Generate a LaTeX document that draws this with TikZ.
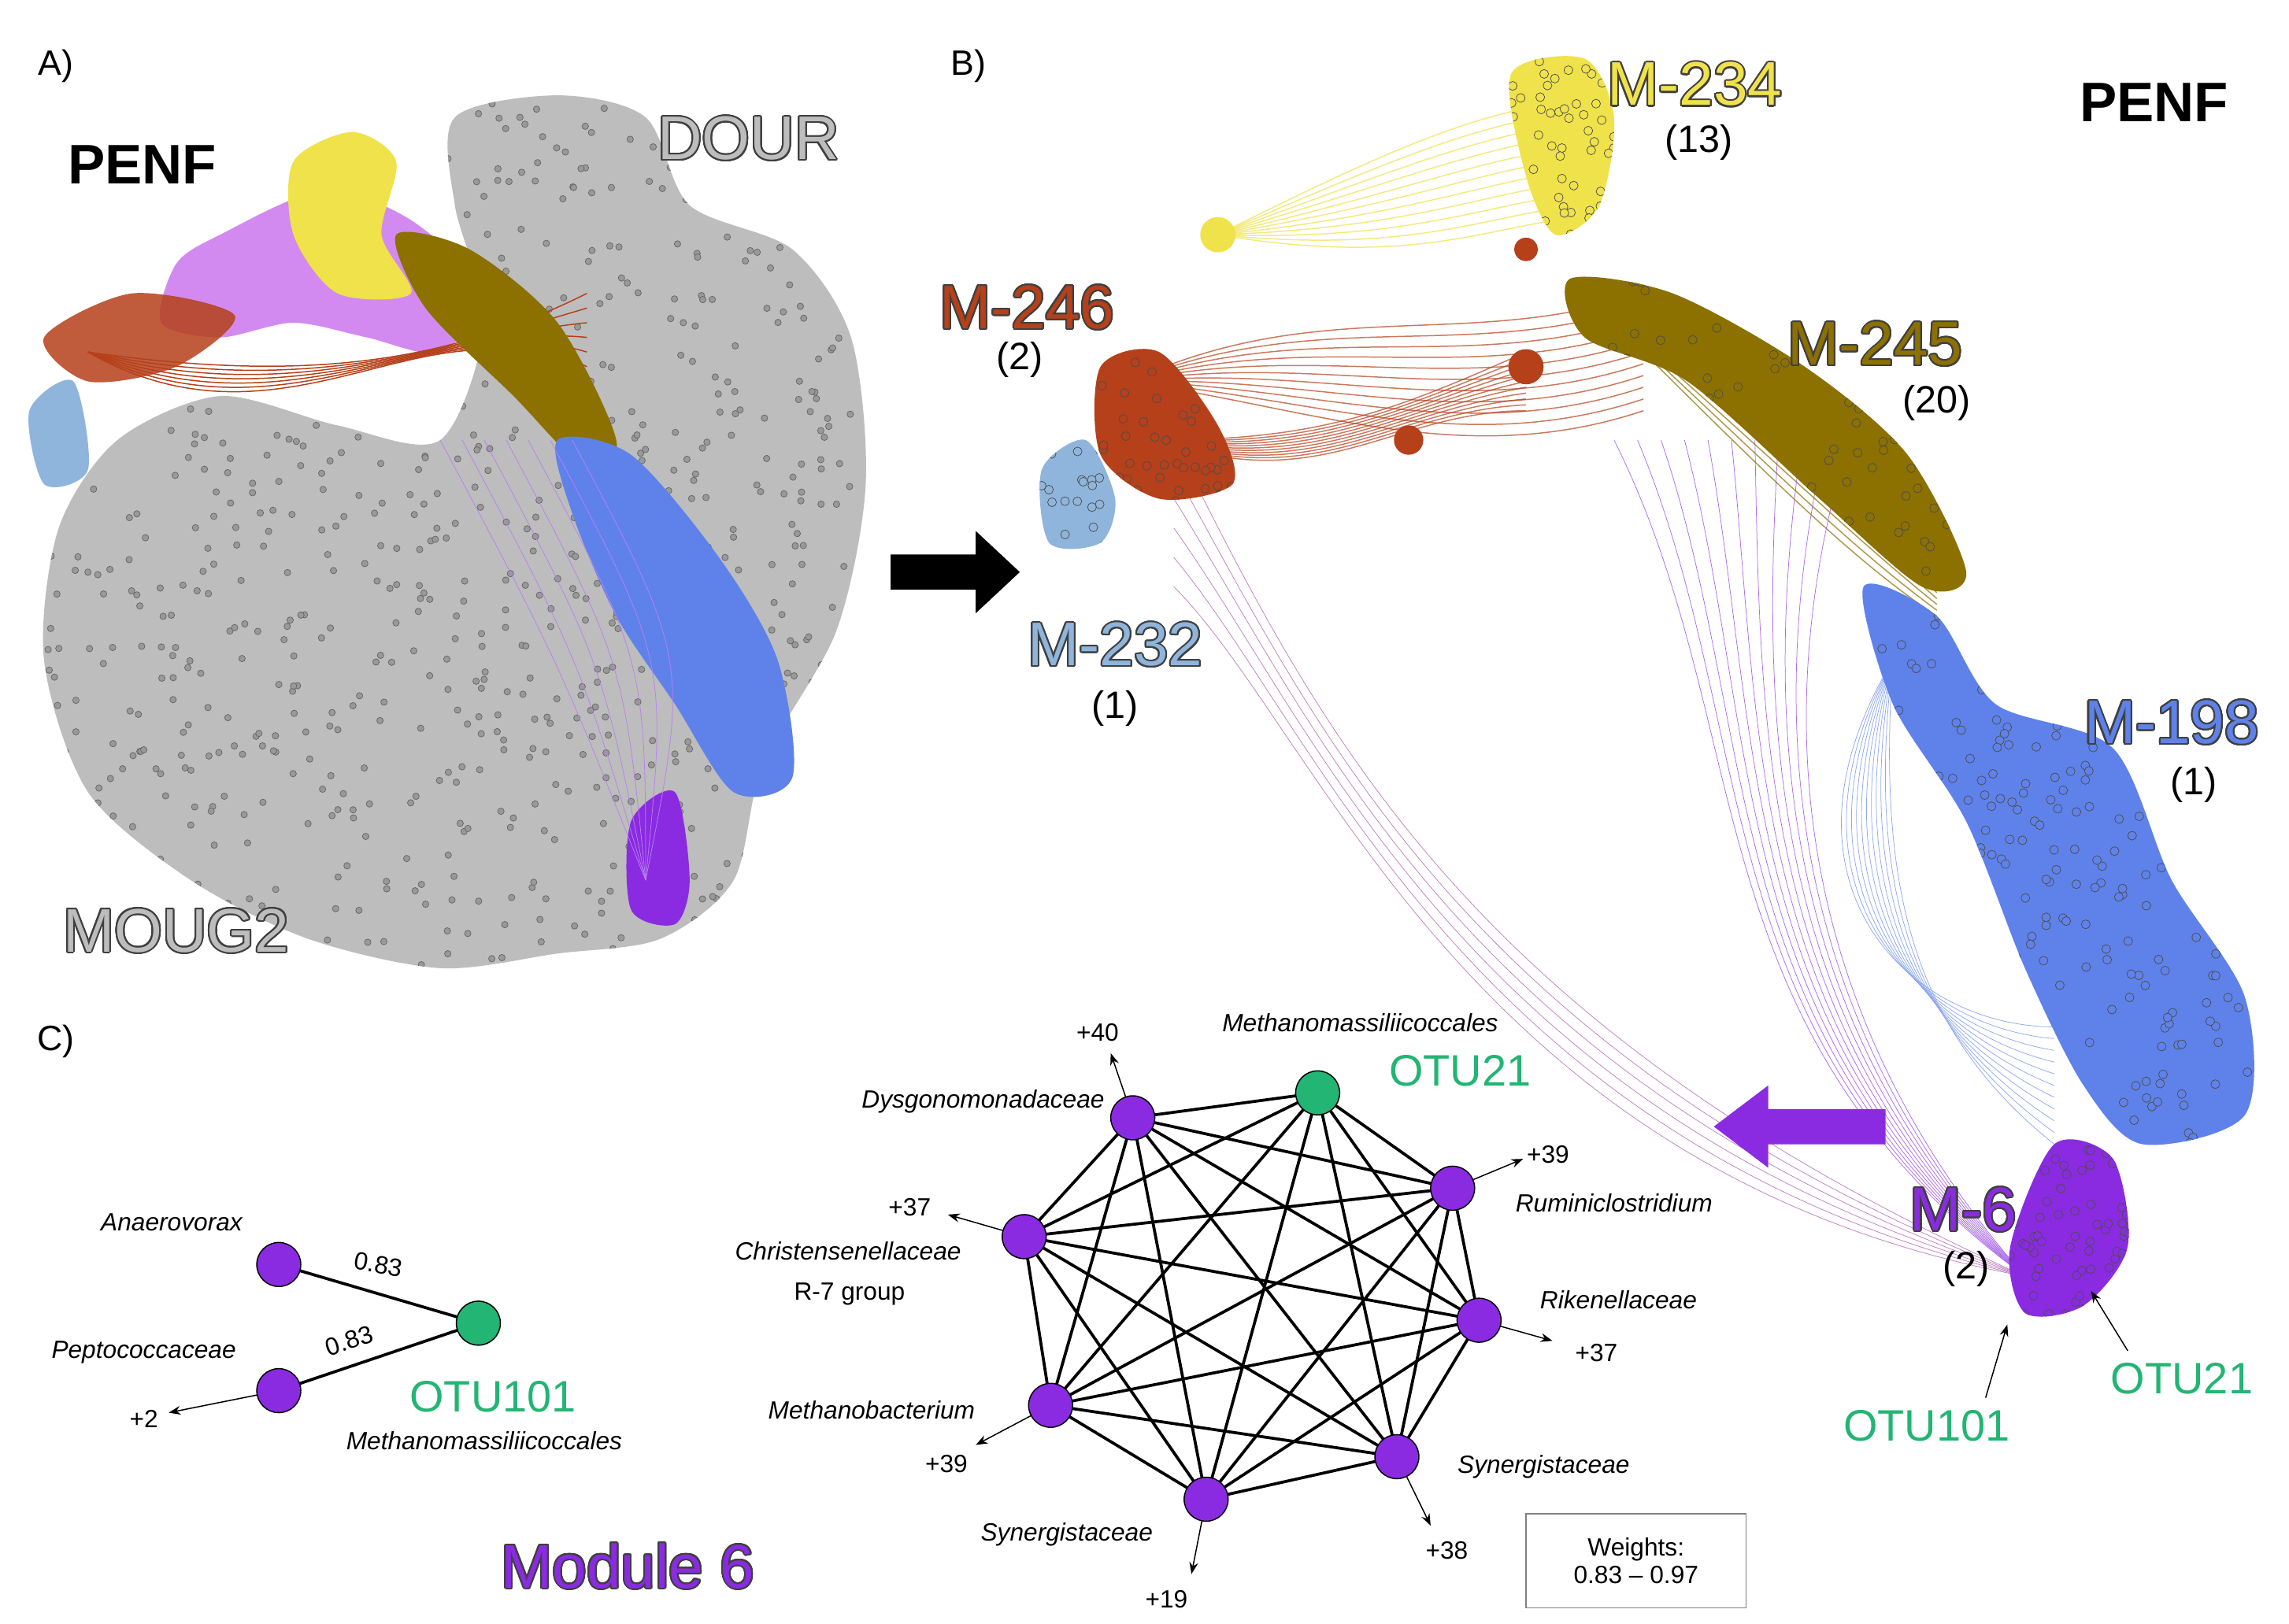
\documentclass[tikz,border=0pt]{standalone}
\usepackage{fontspec}
\setmainfont{Liberation Sans}
\usepackage{contour}
\contourlength{1.1pt}
\contournumber{24}
\usetikzlibrary{arrows.meta}
\definecolor{gblob}{HTML}{BDBDBD}
\definecolor{gdot}{HTML}{6E6E6E}
\definecolor{lviolet}{HTML}{D38AF0}
\definecolor{rbrown}{HTML}{B5401A}
\definecolor{yel}{HTML}{F0E24A}
\definecolor{olive}{HTML}{8C7000}
\definecolor{blu}{HTML}{5F82EA}
\definecolor{dpur}{HTML}{8A2BE2}
\definecolor{lblue}{HTML}{8FB5DC}
\definecolor{grn}{HTML}{22B573}
\newcommand{\olab}[2]{\contour{black!75}{\textcolor{#1}{#2}}}
\begin{document}
\begin{tikzpicture}[x=1pt,y=-1pt,
  pn/.style={circle,draw=black,thick,fill=dpur,minimum size=30pt,inner sep=0},
  gn/.style={circle,draw=black,thick,fill=grn,minimum size=30pt,inner sep=0},
  tx/.style={font=\fontsize{17}{19}\selectfont\itshape},
  nm/.style={font=\fontsize{17}{19}\selectfont},
  big/.style={font=\fontsize{42}{44}\selectfont},
  lab/.style={font=\fontsize{26}{28}\selectfont},
  ed/.style={line width=2pt},
  ar/.style={-{Stealth[length=8pt]},thick}]
\useasboundingbox (0,0) rectangle (1560,1107);
\fill[white] (0,0) rectangle (1560,1107);
% ---------- Panel A ----------
\def\grayblob{plot[smooth cycle] coordinates {(310,80)(380,65)(440,80)(470,140)(540,170)(580,230)(590,330)(570,430)(520,520)(500,600)(450,640)(380,650)(300,660)(210,640)(130,600)(60,540)(30,450)(40,360)(80,300)(150,270)(230,290)(300,300)(330,220)(310,140)}}
\fill[gblob] \grayblob;
\begin{scope}
\clip \grayblob;
\pgfmathsetseed{7}
\foreach \i in {1,...,900}{\draw[black!60,fill=gdot!70] ({rand*280+300},{rand*300+370}) circle (2.2pt);}
\end{scope}
\fill[lviolet] plot[smooth cycle] coordinates {(150,160)(220,130)(280,150)(330,200)(300,240)(250,230)(200,220)(150,230)(110,220)(120,180)};
\fill[rbrown,opacity=.85] plot[smooth cycle] coordinates {(30,230)(90,200)(160,215)(120,250)(60,260)};
\foreach \a in {0,10,...,60}{\draw[rbrown,thick] (60,240) .. controls (200,{260+\a}) and (300,{250-\a}) .. (400,{200+\a});}
\fill[yel] plot[smooth cycle] coordinates {(200,110)(240,90)(270,110)(260,160)(280,200)(230,200)(200,160)};
\fill[olive] plot[smooth cycle] coordinates {(270,160)(320,170)(380,220)(420,300)(400,320)(350,270)(290,210)};
\fill[blu] plot[smooth cycle] coordinates {(380,300)(430,310)(490,380)(530,450)(540,530)(500,540)(460,480)(420,420)(390,350)};
\fill[dpur] plot[smooth cycle] coordinates {(430,560)(460,540)(470,600)(460,630)(430,620)};
\foreach \a in {0,15,...,90}{\draw[dpur!60,thin] (440,600) .. controls ({380+\a},450) .. ({300+\a},300);}
\fill[lblue] plot[smooth cycle] coordinates {(20,280)(50,260)(60,320)(30,330)};
\node[font=\fontsize{24}{26}\selectfont] at (38,45) {A)};
\node[font=\fontsize{38}{40}\selectfont\bfseries] at (97,112) {PENF};
\node[big] at (510,95) {\olab{gblob}{DOUR}};
\node[big] at (120,635) {\olab{gblob}{MOUG2}};
% arrow
\fill[black] (607,378) -- (665,378) -- (665,362) -- (695,390) -- (665,418) -- (665,402) -- (607,402) -- cycle;
% ---------- Panel B ----------
\node[font=\fontsize{24}{26}\selectfont] at (660,45) {B)};
\node[font=\fontsize{38}{40}\selectfont\bfseries] at (1468,70) {PENF};
\foreach \a in {0,8,...,80}{
 \draw[yel,thick,opacity=.7] (830,160) .. controls (950,{100+\a}) and (1000,{80+\a}) .. (1060,{70+\a});
 \draw[rbrown,thick,opacity=.7] (770,260) .. controls (900,{200+\a}) and (1000,{240+\a}) .. (1120,{200+\a});
 \draw[rbrown,thick,opacity=.7] (790,300) .. controls (900,{300+\a/2}) and (950,{280}) .. (1040,{240+\a/2});
 \draw[olive,thick,opacity=.7] (1080,200) .. controls (1200,{240+\a}) and (1260,{300+\a}) .. (1320,{380+\a/2});
 \draw[blu!70,thin] (1290,450) .. controls ({1200+\a},600) and (1300,700) .. (1400,{700+\a});
 \draw[dpur!70,thin] (1380,870) .. controls ({1150+\a},700) and (1200,500) .. ({1100+\a*2},300);
}
\foreach \a in {0,20,...,100}{\draw[violet!50,thin] (1380,870) .. controls (1000,{700+\a}) and (900,{500}) .. (800,{300+\a});}
\def\yblob{plot[smooth cycle] coordinates {(1030,50)(1080,40)(1100,80)(1090,140)(1060,160)(1040,120)}}
\def\oblob{plot[smooth cycle] coordinates {(1070,190)(1140,200)(1230,250)(1300,310)(1340,390)(1310,400)(1240,340)(1150,260)(1080,230)}}
\def\rblob{plot[smooth cycle] coordinates {(750,250)(790,240)(830,290)(840,330)(790,340)(750,310)}}
\def\lbblob{plot[smooth cycle] coordinates {(710,320)(740,300)(760,340)(750,370)(715,370)}}
\def\bblob{plot[smooth cycle] coordinates {(1270,400)(1320,420)(1360,480)(1440,510)(1480,600)(1530,680)(1530,760)(1460,780)(1420,740)(1380,660)(1340,560)(1290,480)}}
\def\pblob{plot[smooth cycle] coordinates {(1400,780)(1440,790)(1450,850)(1420,890)(1380,895)(1370,850)}}
\pgfmathsetseed{3}
\foreach \b/\c/\cx/\cy/\rx/\ry/\n in {\yblob/yel/1065/100/40/62/60,\oblob/olive/1205/295/140/105/120,\rblob/rbrown/795/290/47/52/40,\lbblob/lblue/735/335/27/37/20,\bblob/blu/1400/590/132/192/300,\pblob/dpur/1410/838/42/60/70}{
 \fill[\c] \b;
 \begin{scope}\clip \b;
 \foreach \i in {1,...,\n}{\draw[black!70,fill=\c] ({rand*\rx+\cx},{rand*\ry+\cy}) circle (3pt);}
 \end{scope}}
\fill[yel] (830,160) circle (12);
\fill[rbrown] (1040,250) circle (12); \fill[rbrown] (960,300) circle (10); \fill[rbrown] (1040,170) circle (8);
\node[big] at (1155,58) {\olab{yel}{M-234}};
\node[lab] at (1158,97) {(13)};
\node[big] at (700,210) {\olab{rbrown}{M-246}};
\node[lab] at (695,245) {(2)};
\node[big] at (1278,235) {\olab{olive}{M-245}};
\node[lab] at (1320,275) {(20)};
\node[big] at (760,440) {\olab{lblue}{M-232}};
\node[lab] at (760,483) {(1)};
\node[big] at (1480,493) {\olab{blu}{M-198}};
\node[lab] at (1495,535) {(1)};
\node[big] at (1338,825) {\olab{dpur}{M-6}};
\node[lab] at (1340,865) {(2)};
\node[font=\fontsize{30}{32}\selectfont,text=grn] (o101) at (1313,972) {OTU101};
\node[font=\fontsize{30}{32}\selectfont,text=grn] (o21) at (1487,940) {OTU21};
\coordinate (t101) at (1368,903); \coordinate (t21) at (1425,880);
\draw[ar] (o101.north east) ++(-20,-5) -- (t101);
\draw[ar] (o21.north west) ++(15,-5) -- (t21);
% purple arrow
\fill[dpur] (1285,756) -- (1205,756) -- (1205,740) -- (1168,768) -- (1205,796) -- (1205,780) -- (1285,780) -- cycle;
% ---------- Panel C ----------
\node[font=\fontsize{24}{26}\selectfont] at (38,710) {C)};
\coordinate (c1) at (898,745); \coordinate (c2) at (990,810);
\coordinate (c3) at (1008,900); \coordinate (c4) at (952,993);
\coordinate (c5) at (822,1022); \coordinate (c6) at (716,958);
\coordinate (c7) at (698,843); \coordinate (c8) at (772,762);
\foreach \i/\j in {1/2,1/3,1/4,1/5,1/6,1/7,1/8,2/3,2/4,2/5,2/6,2/7,2/8,3/4,3/5,3/6,3/7,3/8,4/5,4/6,4/7,4/8,5/6,5/7,5/8,6/7,6/8,7/8}
  \draw[ed] (c\i) -- (c\j);
\node[gn] (n1) at (c1) {};
\foreach \k in {2,...,8} \node[pn] (n\k) at (c\k) {};
\node[tx] at (927,697) {Methanomassiliicoccales};
\node[font=\fontsize{30}{32}\selectfont,text=grn] at (995,730) {OTU21};
\node[tx] at (1100,820) {Ruminiclostridium};
\node[tx] at (1103,886) {Rikenellaceae};
\node[tx] at (1052,1000) {Synergistaceae};
\node[tx] at (727,1046) {Synergistaceae};
\node[tx] at (594,961) {Methanobacterium};
\node[tx] at (578,853) {Christensenellaceae};
\node[nm] at (579,882) {R-7 group};
\node[tx] at (670,751) {Dysgonomonadaceae};
\coordinate (e8) at (757,718); \coordinate (e2) at (1038,790); \coordinate (e7) at (646,828);
\coordinate (e3) at (1058,914); \coordinate (e4) at (975,1040); \coordinate (e5) at (812,1073); \coordinate (e6) at (665,985);
\draw[ar] (n8) -- (e8); \node[nm] at (748,704) {+40};
\draw[ar] (n2) -- (e2); \node[nm] at (1055,787) {+39};
\draw[ar] (n7) -- (e7); \node[nm] at (620,823) {+37};
\draw[ar] (n3) -- (e3); \node[nm] at (1088,922) {+37};
\draw[ar] (n4) -- (e4); \node[nm] at (986,1057) {+38};
\draw[ar] (n5) -- (e5); \node[nm] at (795,1090) {+19};
\draw[ar] (n6) -- (e6); \node[nm] at (645,998) {+39};
% left small graph
\coordinate (p1) at (190,862); \coordinate (p2) at (190,948); \coordinate (p3) at (326,902);
\draw[ed] (p1) -- (p3); \draw[ed] (p2) -- (p3);
\node[pn] (a1) at (p1) {}; \node[pn] (a2) at (p2) {}; \node[gn] (a3) at (p3) {};
\node[nm,rotate=-10] at (258,862) {0.83};
\node[nm,rotate=18] at (238,914) {0.83};
\node[tx] at (117,833) {Anaerovorax};
\node[tx] at (98,922) {Peptococcaceae};
\node[font=\fontsize{30}{32}\selectfont,text=grn] at (336,952) {OTU101};
\node[tx] at (330,982) {Methanomassiliicoccales};
\coordinate (e9) at (115,963);
\draw[ar] (a2) -- (e9); \node[nm] at (98,967) {+2};
\node[big] at (428,1068) {\olab{dpur}{Module 6}};
\node[draw=gray,thick,minimum width=150pt,minimum height=64pt,align=center,nm] (w) at (1115,1064) {Weights:\\0.83 -- 0.97};
\end{tikzpicture}
\end{document}
